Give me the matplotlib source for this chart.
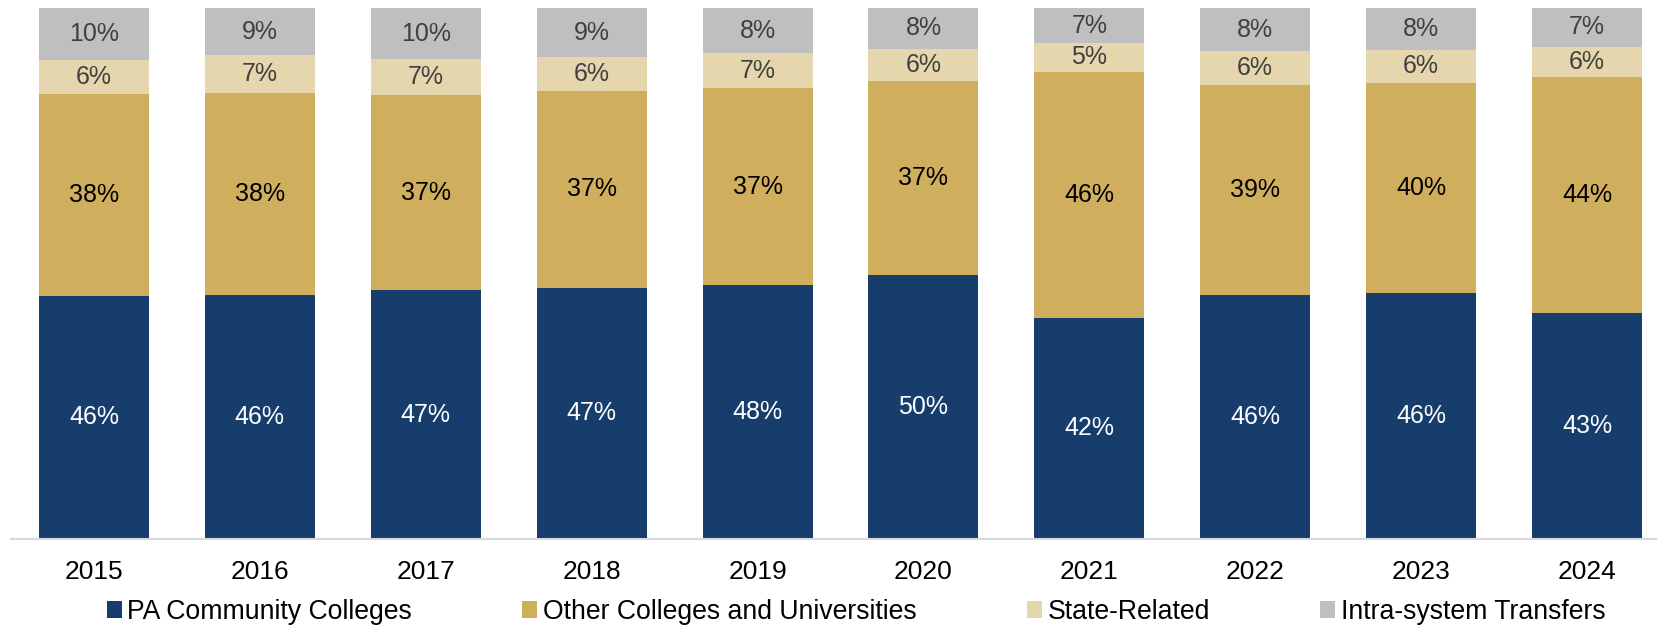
import matplotlib
matplotlib.use("Agg")
import matplotlib.pyplot as plt
from matplotlib.patches import Patch
import numpy as np

plt.rcParams['font.family'] = ['Liberation Sans', 'DejaVu Sans']

years = ["2015", "2016", "2017", "2018", "2019", "2020", "2021", "2022", "2023", "2024"]
pa_community = [45.9, 46.1, 46.9, 47.4, 47.8, 49.8, 41.7, 45.9, 46.3, 42.7]
other_colleges = [37.9, 37.9, 36.8, 37.1, 37.1, 36.6, 46.3, 39.4, 39.7, 44.3]
state_related = [6.4, 7.2, 6.7, 6.3, 6.7, 6.0, 5.3, 6.4, 6.2, 5.8]
intra_system = [9.8, 8.8, 9.6, 9.2, 8.4, 7.6, 6.6, 8.1, 7.8, 7.2]

series_names = ["PA Community Colleges", "Other Colleges and Universities",
                "State-Related", "Intra-system Transfers"]
series = [pa_community, other_colleges, state_related, intra_system]
colors = ["#173D6D", "#CFAE5E", "#E6D6AD", "#BFBFC1"]
text_colors = ["white", "black", "#404040", "#404040"]

W, H = 1658, 626
fig = plt.figure(figsize=(W / 100, H / 100), dpi=100)
ax = fig.add_axes([11 / W, (H - 539.3) / H, 1659 / W, 531 / H])

data = np.array(series, dtype=float)
totals = data.sum(axis=0)
norm = data / totals * 100
x = np.arange(len(years))
bottom = np.zeros(len(years))
for vals, raw, col, tcol in zip(norm, data, colors, text_colors):
    ax.bar(x, vals, bottom=bottom, width=0.663, color=col, linewidth=0)
    for xi, b, v, r in zip(x, bottom, vals, raw):
        ax.text(xi, b + v / 2, f"{int(round(r))}%", ha="center", va="center",
                color=tcol, fontsize=18)
    bottom += vals

ax.set_xlim(-0.5, len(years) - 0.5)
ax.set_ylim(0, 100)
ax.set_xticks(x)
ax.set_xticklabels(years, fontsize=19, color="black")
ax.tick_params(axis="x", length=0, pad=15)
ax.set_yticks([])
for s in ["top", "left", "right"]:
    ax.spines[s].set_visible(False)
ax.spines["bottom"].set_color("#D9D9D9")
ax.spines["bottom"].set_linewidth(1.5)

handles = [Patch(facecolor=c, edgecolor="none") for c in colors]
fig.legend(handles, series_names, loc="center", bbox_to_anchor=(856 / W, 1 - 612 / H),
           ncol=4, frameon=False, fontsize=19.2, handlelength=0.56, handleheight=0.56,
           handletextpad=0.2, columnspacing=4.15, borderaxespad=0, borderpad=0)

fig.savefig("out.png", dpi=100)
